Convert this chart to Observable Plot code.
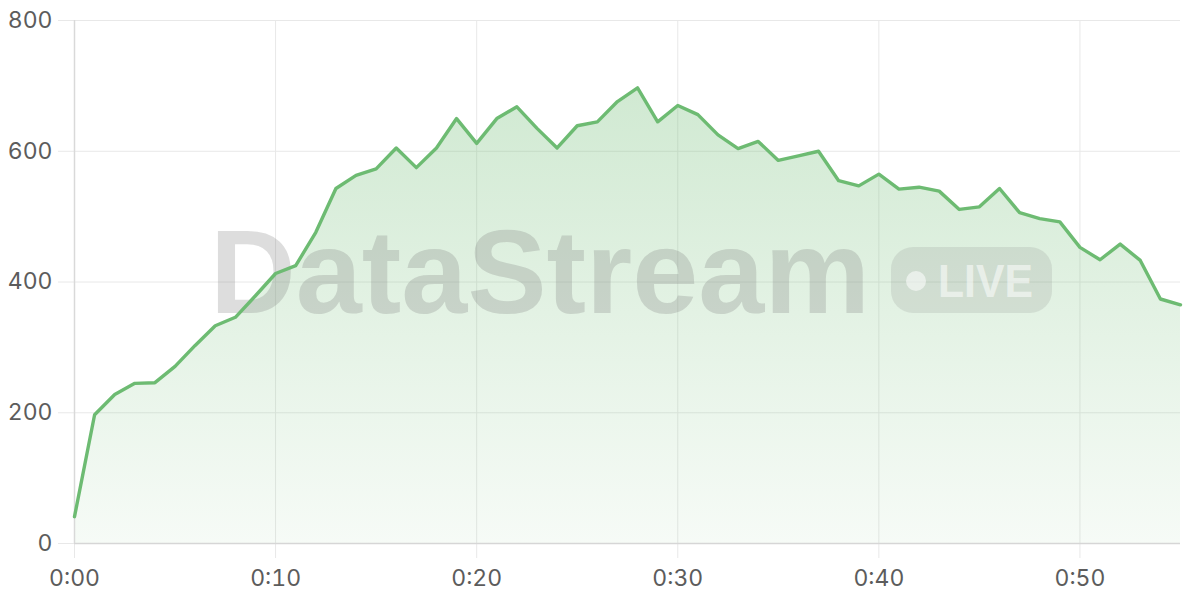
<!DOCTYPE html>
<html>
<head>
<meta charset="utf-8">
<script src="https://cdn.jsdelivr.net/npm/d3@7"></script>
<script src="https://cdn.jsdelivr.net/npm/@observablehq/plot@0.6"></script>
<style>
  html, body { margin: 0; padding: 0; background: #fff; }
  #chart { width: 1200px; height: 600px; }
</style>
</head>
<body>
<div id="chart"></div>
<script>
// minutes since start
const minutes = [0,1,2,3,4,5,6,7,8,9,10,11,12,13,14,15,16,17,18,19,20,21,22,23,24,25,26,27,
  28,29,30,31,32,33,34,35,36,37,38,39,40,41,42,43,44,45,46,47,48,49,50,51,52,53,54,55];
const values = [41,197,228,245,246,271,303,333,346,379,413,425,476,543,563,573,605,575,605,650,
  612,650,668,635,605,639,645,676,697,645,670,656,625,604,615,586,593,600,555,547,
  565,542,545,539,511,515,543,506,497,492,453,434,458,433,374,365];
const xTicks = [0,10,20,30,40,50];
const xTickLabels = ["0:00","0:10","0:20","0:30","0:40","0:50"];
const yTicks = [0,200,400,600,800];
const watermarkText = "DataStream";
const badgeText = "LIVE";

const data = minutes.map((m, i) => ({m, v: values[i]}));

const lineColor = "#6dbb72";
const gridColor = "#e8e8e8";
const textColor = "#5c5c5c";

const plot = Plot.plot({
  width: 1200,
  height: 600,
  marginLeft: 74,
  marginRight: 20,
  marginTop: 20,
  marginBottom: 57,
  style: {fontFamily: "Inter, 'Liberation Sans', sans-serif", fontSize: "23px", background: "#fff", overflow: "visible"},
  x: {domain: [0, 55]},
  y: {domain: [0, 800]},
  marks: [
    Plot.gridY(yTicks, {stroke: gridColor, strokeOpacity: 1}),
    Plot.gridX(xTicks, {stroke: gridColor, strokeOpacity: 1}),
    Plot.areaY(data, {x: "m", y: "v", fill: "url(#areaGrad)", curve: "linear"}),
    Plot.axisY(yTicks, {tickSize: 16, tickPadding: 6, stroke: gridColor, strokeOpacity: 1, fill: textColor, label: null}),
    Plot.axisX(xTicks, {tickSize: 15, tickPadding: 11, stroke: gridColor, strokeOpacity: 1, fill: textColor, label: null,
      tickFormat: d => xTickLabels[xTicks.indexOf(d)]}),
    Plot.ruleY([0], {stroke: "#d6d6d6", strokeWidth: 1.5}),
    Plot.ruleX([0], {stroke: "#d9d9d9", strokeWidth: 1.5}),
    Plot.lineY(data, {x: "m", y: "v", stroke: lineColor, strokeWidth: 3.4, strokeLinejoin: "round", strokeLinecap: "round"})
  ]
});

document.getElementById("chart").appendChild(plot);

const svg = d3.select(plot);
const defs = svg.insert("defs", ":first-child");
const grad = defs.append("linearGradient").attr("id", "areaGrad")
  .attr("x1", 0).attr("y1", 0).attr("x2", 0).attr("y2", 1);
grad.append("stop").attr("offset", "0%").attr("stop-color", "#6dbb72").attr("stop-opacity", 0.32);
grad.append("stop").attr("offset", "100%").attr("stop-color", "#6dbb72").attr("stop-opacity", 0.06);

// watermark, placed beneath the line
const lineNode = plot.querySelector('[aria-label="line"]');
const wm = document.createElementNS("http://www.w3.org/2000/svg", "g");
plot.insertBefore(wm, lineNode);
const w = d3.select(wm).attr("pointer-events", "none").attr("text-anchor", "start");
w.append("text")
  .attr("x", 210).attr("y", 313)
  .attr("text-anchor", "start")
  .attr("textLength", 660).attr("lengthAdjust", "spacingAndGlyphs")
  .attr("font-family", "'Liberation Sans', Arial, sans-serif")
  .attr("font-weight", "bold").attr("font-size", 118)
  .attr("fill", "#7a7a7a").attr("fill-opacity", 0.26)
  .text(watermarkText);
w.append("rect")
  .attr("x", 891).attr("y", 247).attr("width", 161).attr("height", 66).attr("rx", 22)
  .attr("fill", "#7a7a7a").attr("fill-opacity", 0.17);
w.append("circle").attr("cx", 916).attr("cy", 281).attr("r", 10)
  .attr("fill", "#fff").attr("fill-opacity", 0.55);
w.append("text")
  .attr("x", 938).attr("y", 297)
  .attr("text-anchor", "start")
  .attr("textLength", 95).attr("lengthAdjust", "spacingAndGlyphs")
  .attr("font-family", "'Liberation Sans', Arial, sans-serif")
  .attr("font-weight", 600).attr("font-size", 46)
  .attr("fill", "#fff").attr("fill-opacity", 0.55)
  .text(badgeText);
</script>
</body>
</html>
